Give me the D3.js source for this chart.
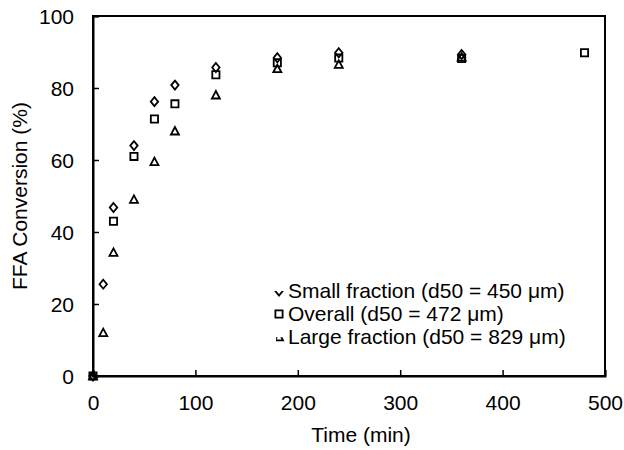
<!DOCTYPE html>
<html><head><meta charset="utf-8">
<script src="https://cdn.jsdelivr.net/npm/d3@7"></script>
<style>
html,body{margin:0;padding:0;background:#fff;}
text{font-family:"Liberation Sans",Arial,Helvetica,sans-serif;fill:#000;}
</style></head>
<body><svg id="c" width="624" height="450"></svg>
<script>
const times = [0, 10, 20, 40, 60, 80, 120, 180, 240, 360, 480];
const smallFraction = [0, 25.5, 46.8, 64, 76.2, 80.8, 85.7, 88.4, 89.8, 89.3, null];
const overall = [0, null, 43, 61, 71.4, 75.6, 83.7, 87, 88.3, 88.2, 89.8];
const largeFraction = [0, 12, 34.3, 49, 59.5, 68, 78, 85.3, 86.5, 88.5, null];
const xTicks = [0, 100, 200, 300, 400, 500];
const yTicks = [0, 20, 40, 60, 80, 100];
const seriesNames = ["Small fraction (d50 = 450 μm)", "Overall (d50 = 472 μm)", "Large fraction (d50 = 829 μm)"];

const svg = d3.select("#c");
const L = 93, R = 605, T = 16, B = 376;
const x = d3.scaleLinear().domain([0, 500]).range([L, R]);
const y = d3.scaleLinear().domain([0, 100]).range([B, T]);

const shapes = {
  diamond: "M0,-4.5L3.7,0L0,4.5L-3.7,0Z",
  square: "M-3.6,-3.6H3.6V3.6H-3.6Z",
  triangle: "M0,-4.2L4,3.3H-4Z"
};
const series = [
  {name: seriesNames[0], vals: smallFraction, shape: "diamond"},
  {name: seriesNames[1], vals: overall, shape: "square"},
  {name: seriesNames[2], vals: largeFraction, shape: "triangle"}
];

// frame
svg.append("rect").attr("x", L).attr("y", T).attr("width", R - L).attr("height", B - T)
  .attr("fill", "none").attr("stroke", "#000").attr("stroke-width", 2);

// axes with inward ticks
const xAxis = d3.axisBottom(x).tickValues(xTicks).tickSize(-6).tickPadding(0).tickFormat(d3.format("d"));
const gx = svg.append("g").attr("transform", `translate(0,${B})`).call(xAxis);
gx.select(".domain").attr("stroke-width", 2);
gx.selectAll(".tick line").attr("stroke-width", 1.5);
gx.selectAll(".tick text").attr("font-size", 21).attr("y", 0).attr("dy", "33.5px")
  .style("font-family", "Liberation Sans, Arial, sans-serif");

const yAxis = d3.axisLeft(y).tickValues(yTicks).tickSize(-6).tickPadding(19).tickFormat(d3.format("d"));
const gy = svg.append("g").attr("transform", `translate(${L},0)`).call(yAxis);
gy.select(".domain").attr("stroke-width", 2);
gy.selectAll(".tick line").attr("stroke-width", 1.5);
gy.selectAll(".tick text").attr("font-size", 21).attr("dy", "0.35em")
  .style("font-family", "Liberation Sans, Arial, sans-serif");

// axis titles
svg.append("text").attr("x", (L + R) / 2 + 12).attr("y", 442).attr("text-anchor", "middle")
  .attr("font-size", 21).text("Time (min)");
svg.append("text").attr("transform", `translate(27,${(T + B) / 2}) rotate(-90)`)
  .attr("text-anchor", "middle").attr("font-size", 21).text("FFA Conversion (%)");

// points
series.forEach(s => {
  const pts = times.map((t, i) => ({t, v: s.vals[i]})).filter(d => d.v !== null);
  svg.append("g").selectAll("path").data(pts).join("path")
    .attr("d", shapes[s.shape])
    .attr("transform", d => `translate(${x(d.t)},${y(d.v)})`)
    .attr("fill", "none").attr("stroke", "#000").attr("stroke-width", 1.8);
});

// legend (with clipped markers like the original)
const defs = svg.append("defs");
defs.append("clipPath").attr("id", "clipSmall").append("rect").attr("x", -6).attr("y", 0).attr("width", 12).attr("height", 8);
defs.append("clipPath").attr("id", "clipLarge").append("rect").attr("x", -3).attr("y", 0.3).attr("width", 9).attr("height", 6);
const legY = [291, 314, 337];
series.forEach((s, i) => {
  const g = svg.append("g").attr("transform", `translate(279,${legY[i]})`);
  const p = g.append("g");
  if (i === 0) p.attr("clip-path", "url(#clipSmall)");
  if (i === 2) p.attr("clip-path", "url(#clipLarge)");
  p.append("path").attr("d", shapes[s.shape])
    .attr("fill", "none").attr("stroke", "#000").attr("stroke-width", 1.8);
  g.append("text").attr("x", 9).attr("y", 0).attr("dy", "0.35em").attr("font-size", 21).text(s.name);
});
</script></body></html>
